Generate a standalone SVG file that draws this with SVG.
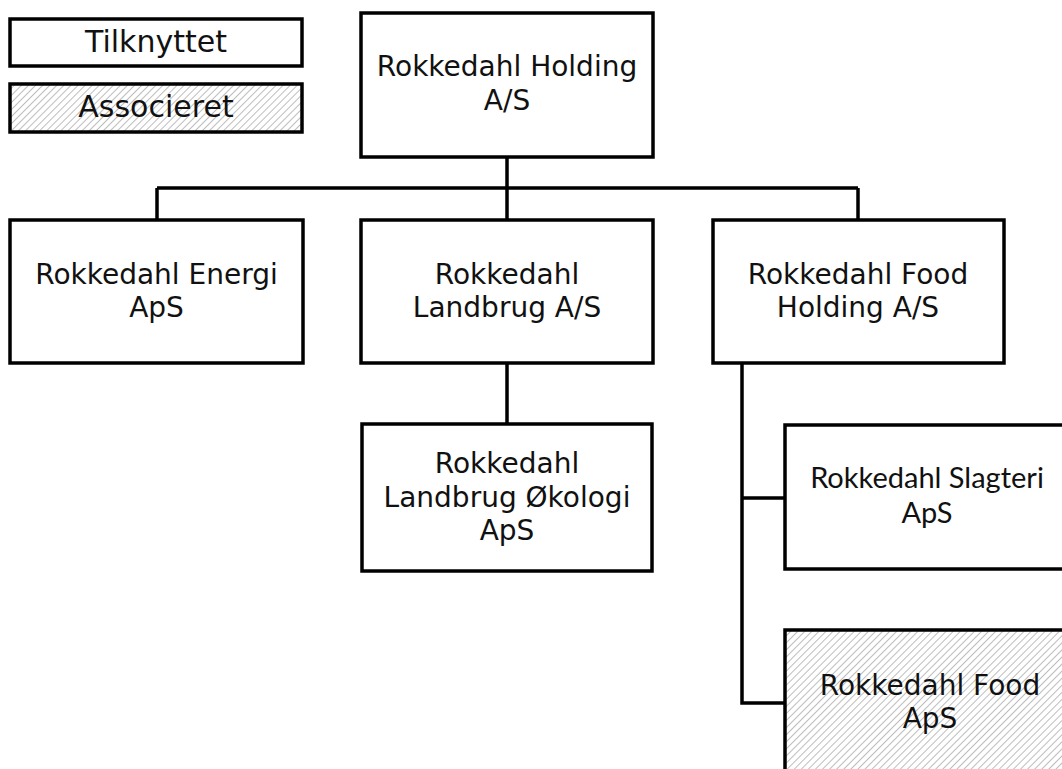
<svg xmlns="http://www.w3.org/2000/svg" width="1062" height="769" viewBox="0 0 1062 769">
<style>
.box{fill:#fff;stroke:#000;stroke-width:3.5}
.hatch{fill:url(#hatch);stroke:#000;stroke-width:3.5}
.t{font-family:"DejaVu Sans",sans-serif;font-size:28px;fill:#111;text-anchor:middle}
.lg{font-size:30px}
.s{font-family:Lato,"Liberation Sans",sans-serif;font-size:29px}
.c{stroke:#000;stroke-width:3.5;fill:none}
</style>
<defs>
<pattern id="hatch" patternUnits="userSpaceOnUse" width="5" height="5" patternTransform="rotate(45)">
<rect width="5" height="5" fill="#fff"/>
<line x1="0" y1="0" x2="0" y2="5" stroke="#9a9a9a" stroke-width="1.3"/>
</pattern>
</defs>
<g id="connectors">
<path class="c" d="M507 157V220M157 188H858M157 188V220M858 188V220M507 362V425M742 364V703H785M742 498H785"/>
</g>
<g id="legend-tilknyttet"><rect class="box" x="10" y="19" width="292" height="47"/><text class="t lg" x="156" y="52">Tilknyttet</text></g>
<g id="legend-associeret"><rect class="hatch" x="10" y="84" width="292" height="48"/><text class="t lg" x="156" y="117">Associeret</text></g>
<g id="holding"><rect class="box" x="361" y="13" width="292" height="144"/><text class="t" x="507" y="76">Rokkedahl Holding</text><text class="t" x="507" y="110">A/S</text></g>
<g id="energi"><rect class="box" x="10" y="220" width="293" height="143"/><text class="t" x="156.5" y="284">Rokkedahl Energi</text><text class="t" x="156.5" y="317">ApS</text></g>
<g id="landbrug"><rect class="box" x="361" y="220" width="292" height="143"/><text class="t" x="507" y="284">Rokkedahl</text><text class="t" x="507" y="317">Landbrug A/S</text></g>
<g id="foodholding"><rect class="box" x="713" y="220" width="291" height="143"/><text class="t" x="858" y="284">Rokkedahl Food</text><text class="t" x="858" y="317">Holding A/S</text></g>
<g id="okologi"><rect class="box" x="362" y="424" width="290" height="147"/><text class="t" x="507" y="473">Rokkedahl</text><text class="t" x="507" y="507">Landbrug Økologi</text><text class="t" x="507" y="540">ApS</text></g>
<g id="slagteri"><rect class="box" x="785" y="425" width="300" height="144"/><text class="t s" x="927" y="488">Rokkedahl Slagteri</text><text class="t s" x="927" y="523">ApS</text></g>
<g id="foodaps"><rect class="hatch" x="785" y="630" width="300" height="160"/><text class="t" x="930" y="695">Rokkedahl Food</text><text class="t" x="930" y="728">ApS</text></g>
</svg>
